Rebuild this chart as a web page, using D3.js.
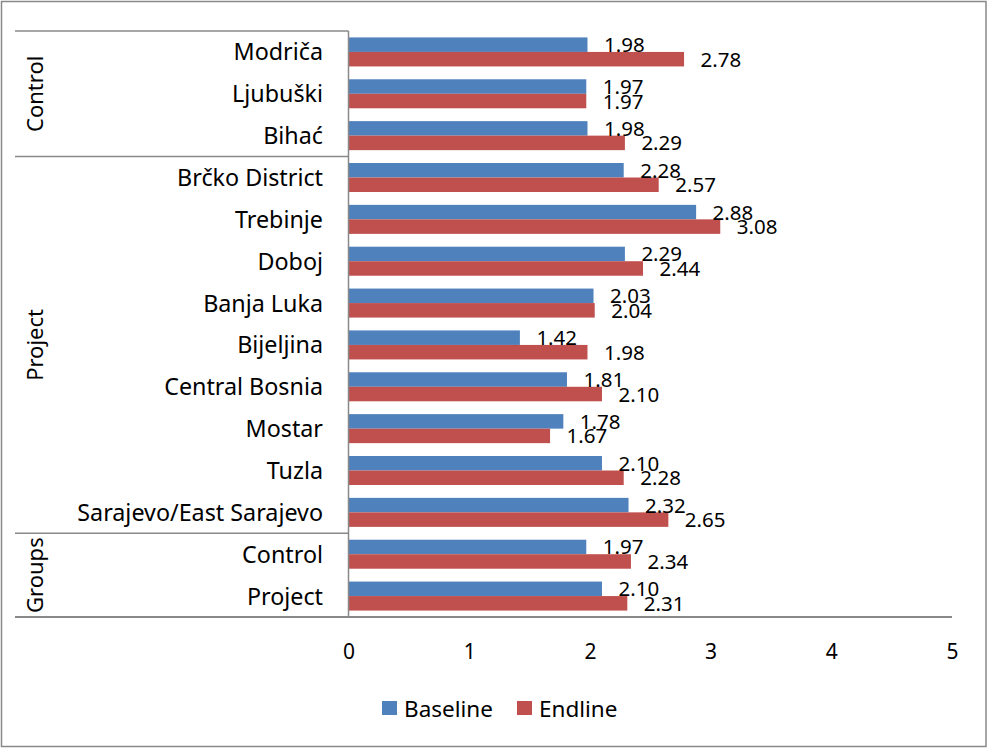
<!DOCTYPE html>
<html>
<head>
<meta charset="utf-8">
<script src="https://cdn.jsdelivr.net/npm/d3@7"></script>
<style>
  html, body { margin: 0; padding: 0; background: #fff; }
  svg { display: block; font-family: "Noto Sans", "Open Sans", sans-serif; }
</style>
</head>
<body>
<svg id="chart" width="988" height="749"></svg>
<script>
// ---- data ----
const categories = ["Modriča", "Ljubuški", "Bihać", "Brčko District", "Trebinje", "Doboj",
  "Banja Luka", "Bijeljina", "Central Bosnia", "Mostar", "Tuzla", "Sarajevo/East Sarajevo",
  "Control", "Project"];
const baseline = [1.98, 1.97, 1.98, 2.28, 2.88, 2.29, 2.03, 1.42, 1.81, 1.78, 2.10, 2.32, 1.97, 2.10];
const endline  = [2.78, 1.97, 2.29, 2.57, 3.08, 2.44, 2.04, 1.98, 2.10, 1.67, 2.28, 2.65, 2.34, 2.31];
const groupNames = ["Control", "Project", "Groups"];
const groupSizes = [3, 9, 2];
const seriesNames = ["Baseline", "Endline"];
const seriesColors = ["#4F81BD", "#C0504D"];
const xTicks = [0, 1, 2, 3, 4, 5];

// ---- layout ----
const svg = d3.select("#chart");
const W = 988, H = 749;
const plotTop = 31, plotBottom = 617, axisX = 348.5, xRight = 952;
const gridColor = "#898989";

svg.append("rect").attr("x", 1.5).attr("y", 1.5).attr("width", W - 3.5).attr("height", H - 4)
  .attr("fill", "#fff").attr("stroke", gridColor).attr("stroke-width", 1.5);

const x = d3.scaleLinear().domain([0, 5]).range([axisX, xRight]);
const keys = categories.map((c, i) => i);
const y = d3.scaleBand().domain(keys).range([plotTop, plotBottom]).padding(0);
const ySub = d3.scaleBand().domain(seriesNames).range([0, y.bandwidth()])
  .paddingInner(0).paddingOuter(0.443);

const rows = categories.map((c, i) => ({ i, c, vals: [baseline[i], endline[i]] }));

// bars
const g = svg.append("g");
rows.forEach(r => {
  seriesNames.forEach((s, si) => {
    const yy = y(r.i) + ySub(s);
    g.append("rect")
      .attr("x", x(0))
      .attr("y", yy)
      .attr("width", x(r.vals[si]) - x(0))
      .attr("height", ySub.bandwidth())
      .attr("fill", seriesColors[si]);
  });
});

// data labels
rows.forEach(r => {
  seriesNames.forEach((s, si) => {
    const yc = y(r.i) + ySub(s) + ySub.bandwidth() / 2;
    g.append("text")
      .attr("x", x(r.vals[si]) + 16.5)
      .attr("y", yc + 7.5)
      .attr("font-size", 20.5)
      .attr("fill", "#000")
      .text(r.vals[si].toFixed(2));
  });
});

// axes lines
svg.append("line").attr("x1", axisX).attr("x2", axisX).attr("y1", plotTop).attr("y2", plotBottom)
  .attr("stroke", gridColor).attr("stroke-width", 1.5);
svg.append("line").attr("x1", 15).attr("x2", xRight).attr("y1", plotBottom).attr("y2", plotBottom)
  .attr("stroke", gridColor).attr("stroke-width", 2);

// group separator lines
let acc = 0;
const boundaries = [0];
groupSizes.forEach(n => { acc += n; boundaries.push(acc); });
boundaries.slice(0, -1).forEach(b => {
  const yy = y(b);
  svg.append("line").attr("x1", 15).attr("x2", axisX).attr("y1", yy).attr("y2", yy)
    .attr("stroke", gridColor).attr("stroke-width", 1.5);
});

// category labels
rows.forEach(r => {
  svg.append("text")
    .attr("x", 323)
    .attr("y", y(r.i) + y.bandwidth() / 2 + 8.5)
    .attr("text-anchor", "end")
    .attr("font-size", 23.3)
    .attr("fill", "#000")
    .text(r.c);
});

// group labels
groupNames.forEach((gn, gi) => {
  const y0 = y(boundaries[gi]);
  const y1 = boundaries[gi + 1] < categories.length ? y(boundaries[gi + 1]) : plotBottom;
  svg.append("text")
    .attr("transform", `translate(42.5,${(y0 + y1) / 2}) rotate(-90)`)
    .attr("text-anchor", "middle")
    .attr("font-size", 22)
    .attr("fill", "#000")
    .text(gn);
});

// x tick labels
const xAxis = d3.axisBottom(x).tickValues(xTicks).tickSize(0).tickPadding(0).tickFormat(d3.format("d"));
const xg = svg.append("g").attr("transform", `translate(0,${plotBottom})`).call(xAxis);
xg.select(".domain").remove();
xg.selectAll("text")
  .attr("y", 42)
  .attr("dy", 0)
  .attr("font-size", 21)
  .attr("font-family", "Noto Sans, Open Sans, sans-serif")
  .attr("fill", "#000");

// legend
const legendItems = [
  { name: seriesNames[0], color: seriesColors[0], sx: 382, tx: 404 },
  { name: seriesNames[1], color: seriesColors[1], sx: 517, tx: 539 }
];
legendItems.forEach(it => {
  svg.append("rect").attr("x", it.sx).attr("y", 701).attr("width", 15).attr("height", 14)
    .attr("fill", it.color);
  svg.append("text").attr("x", it.tx).attr("y", 717).attr("font-size", 22.5)
    .attr("fill", "#000").text(it.name);
});
</script>
</body>
</html>
